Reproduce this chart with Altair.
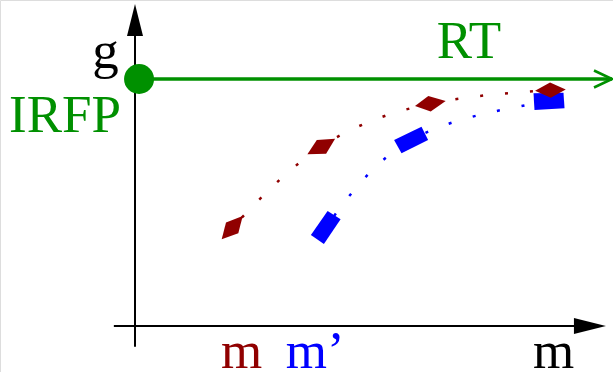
import altair as alt
import pandas as pd

# Series values: position along m and the matching g value
red_m = [2.16, 4.14, 6.56, 9.23]
red_g = [3.98, 7.26, 9.00, 9.55]
blue_m = [4.24, 6.14, 9.20]
blue_g = [4.00, 7.53, 9.11]

# Level of the reference line and where it starts/ends along m
g_level = 10.0
g_line_m = [0.16, 10.6]

# Marker outlines (symbol paths, unit scale = 1 px at size 4)
red_outlines = [
    "M10.5,-11.8L-6.2,-5.1L-10.5,11.5L6.1,5.5Z",
    "M-13.9,7.6L-4.5,-6.7L13.8,-8L4.8,7Z",
    "M-15.2,2.2L-1.9,-7.8L15.5,-2.8L0.5,7.9Z",
    "M-15.3,0.7L-0.3,-7.7L15.4,-0.7L0.4,7.7Z",
]
blue_outlines = [
    "M1.8,-16.3L14.8,-8L-1.9,16.7L-14.9,7.7Z",
    "M10.2,-13.3L16.8,0L-9.8,13.3L-17.2,0Z",
    "M-15.5,-7.7L14.5,-8.3L15.5,7.3L-14.5,9Z",
]

# Text labels
label_text = ["g", "RT", "m", "m"]
label_m = [-0.656, 7.42, 2.37, 9.30]
label_g = [10.45, 10.86, -1.70, -1.70]
label_color = ["#000000", "#009000", "#900000", "#000000"]
irfp_text, irfp_m, irfp_g = "IRFP", -2.80, 7.87
mprime_text, mprime_m, mprime_g = "m\u2019", 3.35, -1.70

GREEN = "#009000"
DARKRED = "#900000"
BLUE = "#0000ff"
FONT = "Liberation Serif"
FONT_SIZE = 53

xs = alt.Scale(domain=[-3.0, 10.6222], nice=False, zero=False)
ys = alt.Scale(domain=[-1.8623, 13.1984], nice=False, zero=False)


def X(f="m"):
    return alt.X(f, type="quantitative", scale=xs, axis=None)


def Y(f="g"):
    return alt.Y(f, type="quantitative", scale=ys, axis=None)


red = pd.DataFrame({"m": red_m, "g": red_g, "outline": red_outlines})
blue = pd.DataFrame({"m": blue_m, "g": blue_g, "outline": blue_outlines})

# Axes with arrowheads
axis_lines = pd.DataFrame({
    "m": [0.0, -0.47], "m2": [0.0, 9.9],
    "g": [-0.84, 0.0], "g2": [11.74, 0.0],
})
axis_rules = alt.Chart(axis_lines).mark_rule(color="black", strokeWidth=2).encode(
    x=X("m"), x2="m2", y=Y("g"), y2="g2"
)
heads = pd.DataFrame({
    "m": [0.0, 10.11], "g": [12.39, 0.0],
    "outline": ["M0,-16L8,16L-8,16Z", "M16,0L-16,8L-16,-8Z"],
})
arrowheads = alt.Chart(heads).mark_point(
    filled=True, size=4, color="black", opacity=1, strokeWidth=0
).encode(x=X(), y=Y(), shape=alt.Shape("outline:N", scale=None, legend=None))

# Reference line g with open arrowhead and starting dot
gdf = pd.DataFrame({"m": [g_line_m[0]], "m2": [g_line_m[1]], "g": [g_level]})
g_rule = alt.Chart(gdf).mark_rule(color=GREEN, strokeWidth=3.5).encode(
    x=X("m"), x2="m2", y=Y("g")
)
chev = pd.DataFrame({"m": [g_line_m[1]], "g": [g_level], "outline": ["M-18,-8.5L0,0L-18,8.5"]})
g_head = alt.Chart(chev).mark_point(
    filled=False, size=4, color=GREEN, opacity=1, strokeWidth=2.5
).encode(x=X(), y=Y(), shape=alt.Shape("outline:N", scale=None, legend=None))
dot = pd.DataFrame({"m": [0.09], "g": [g_level]})
g_dot = alt.Chart(dot).mark_point(
    filled=True, shape="circle", size=900, color=GREEN, opacity=1, strokeWidth=0
).encode(x=X(), y=Y())


# Dotted trend curves
def trend(df, color):
    return alt.Chart(df).mark_line(
        color=color, strokeWidth=2.5, strokeDash=[3, 22], strokeDashOffset=11,
        interpolate="natural", strokeCap="butt"
    ).encode(x=X(), y=Y(), order="m:Q")


def markers(df, color):
    return alt.Chart(df).mark_point(
        filled=True, size=4, color=color, opacity=1, strokeWidth=0
    ).encode(x=X(), y=Y(), shape=alt.Shape("outline:N", scale=None, legend=None))


labels = pd.DataFrame({"m": label_m, "g": label_g, "text": label_text, "c": label_color})
centered_text = alt.Chart(labels).mark_text(
    font=FONT, fontSize=FONT_SIZE, align="center", baseline="alphabetic"
).encode(x=X(), y=Y(), text="text:N", color=alt.Color("c:N", scale=None))

left_df = pd.DataFrame({
    "m": [irfp_m, mprime_m], "g": [irfp_g, mprime_g],
    "text": [irfp_text, mprime_text], "c": [GREEN, BLUE],
})
left_text = alt.Chart(left_df).mark_text(
    font=FONT, fontSize=FONT_SIZE, align="left", baseline="alphabetic"
).encode(x=X(), y=Y(), text="text:N", color=alt.Color("c:N", scale=None))

chart = alt.layer(
    g_rule, g_head, axis_rules, arrowheads, g_dot,
    trend(red, DARKRED), trend(blue, BLUE),
    markers(blue, BLUE), markers(red, DARKRED),
    centered_text, left_text,
).properties(
    width=613, height=372, padding=0,
    autosize=alt.AutoSizeParams(type="none"),
).configure_view(stroke=None).configure(background="white")

chart.save("out.html", embed_options={"renderer": "svg", "actions": False})
